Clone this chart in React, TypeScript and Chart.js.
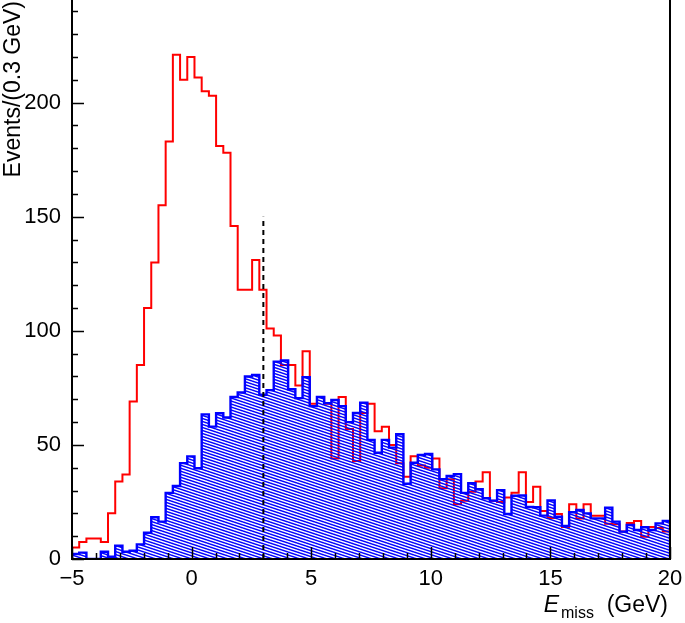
import React, { useEffect, useRef } from "react";
import { Chart, registerables } from "chart.js";

Chart.register(...registerables);

// ---- data ----
const xMin = -5;
const xMax = 20;
const yMax = 245;
const xMajorStep = 5;
const xMinorStep = 1;
const yMajorStep = 50;
const yMinorStep = 10;
const cutX = 3;
const cutTop = 150;

// red histogram (outline only), 83 bins from -5 to 20
const redCounts = [
  5, 7.5, 9, 9, 7.5, 20, 34, 37, 69, 85,
  110, 130, 155, 183, 221, 210, 220, 211, 205, 203,
  181, 178, 146, 118, 118, 131, 118, 101, 98, 85,
  85, 76, 91, 68, 71, 68, 44, 71, 57, 43,
  64, 68, 56, 58, 50, 42, 36, 45, 41, 40,
  44, 31, 35, 24, 25.5, 29.5, 34, 38, 25.5, 25,
  27, 29, 38, 25, 31.7, 21, 18, 19.7, 14, 24,
  17.8, 24, 19, 19, 15.5, 15.2, 12, 15.8, 16.7, 9.8,
  14, 13.6, 12,
];

// blue hatched histogram
const blueCounts = [
  2.2, 2.8, 0, 0, 3.2, 1, 5.8, 3.2, 3.6, 6.4,
  11.5, 18.3, 16.4, 29, 32, 42, 45, 39.8, 63.4, 58,
  63.9, 62, 71, 73, 80, 80.7, 72, 74, 86.5, 87,
  74.4, 70.5, 79.7, 67, 71, 68.3, 69.7, 67, 60, 64,
  68.5, 52.2, 46.6, 52.2, 48.8, 54.7, 33, 42.2, 45.6, 46,
  39.3, 35, 36.4, 37.2, 29, 33.2, 30.6, 26.6, 25.6, 30.2,
  19.7, 27.7, 27.8, 22.8, 22.7, 19, 25.7, 18.5, 14.5, 20.5,
  21.5, 20, 17.8, 17.8, 22.5, 16.4, 12, 14.9, 12.7, 13.9,
  12.7, 15.6, 16.7,
];

const FONT = "'Liberation Sans', Arial, Helvetica, sans-serif";

function histPoints(counts: number[]) {
  const w = (xMax - xMin) / counts.length;
  const pts: { x: number; y: number }[] = [{ x: xMin, y: 0 }];
  counts.forEach((c, i) => pts.push({ x: xMin + i * w, y: c }));
  pts.push({ x: xMax, y: 0 });
  return pts;
}

function fmt(v: number) {
  return v < 0 ? "\u2212" + String(Math.abs(v)) : String(v);
}

const rootAxes = {
  id: "rootAxes",
  afterDraw(chart: any) {
    const { ctx, chartArea: a, scales } = chart;
    const xs = scales.x;
    const ys = scales.y;
    ctx.save();
    ctx.strokeStyle = "#000";
    ctx.lineWidth = 1.5;
    ctx.beginPath();
    for (let v = 0; v <= yMax + 1e-9; v += yMinorStep) {
      const py = Math.round(ys.getPixelForValue(v)) + 0.5;
      const len = Math.abs(v % yMajorStep) < 1e-9 ? 12 : 6;
      ctx.moveTo(a.left, py);
      ctx.lineTo(a.left + len, py);
    }
    for (let v = xMin; v <= xMax + 1e-9; v += xMinorStep) {
      const px = Math.round(xs.getPixelForValue(v)) + 0.5;
      const len = Math.abs((v - xMin) % xMajorStep) < 1e-9 ? 12 : 6;
      ctx.moveTo(px, a.bottom);
      ctx.lineTo(px, a.bottom - len);
    }
    ctx.stroke();

    // frame
    ctx.lineWidth = 2;
    ctx.beginPath();
    ctx.moveTo(a.left, a.top);
    ctx.lineTo(a.left, a.bottom);
    ctx.lineTo(a.right, a.bottom);
    ctx.lineTo(a.right, a.top);
    ctx.stroke();

    // y title
    ctx.fillStyle = "#000";
    ctx.save();
    ctx.translate(20, a.top + 1);
    ctx.rotate(-Math.PI / 2);
    ctx.font = `23px ${FONT}`;
    ctx.textAlign = "right";
    ctx.textBaseline = "alphabetic";
    ctx.fillText("Events/(0.3 GeV)", 0, 0);
    ctx.restore();

    // x title: E_miss (GeV)
    const base = 612;
    ctx.textBaseline = "alphabetic";
    ctx.textAlign = "left";
    ctx.font = `italic 23px ${FONT}`;
    const wE = ctx.measureText("E").width;
    ctx.font = `16px ${FONT}`;
    const wSub = ctx.measureText("miss").width;
    ctx.font = `23px ${FONT}`;
    const rest = "  (GeV)";
    const wRest = ctx.measureText(rest).width;
    let x0 = a.right - 2 - (wE + 2 + wSub + wRest);
    ctx.font = `italic 23px ${FONT}`;
    ctx.fillText("E", x0, base);
    x0 += wE + 2;
    ctx.font = `16px ${FONT}`;
    ctx.fillText("miss", x0, base + 6);
    x0 += wSub;
    ctx.font = `23px ${FONT}`;
    ctx.fillText(rest, x0, base);
    ctx.restore();
  },
};

export default function App() {
  const ref = useRef<HTMLCanvasElement | null>(null);

  useEffect(() => {
    document.body.style.margin = "0";
    const canvas = ref.current;
    if (!canvas) return;
    const ctx = canvas.getContext("2d");
    if (!ctx) return;

    const pc = document.createElement("canvas");
    pc.width = 9;
    pc.height = 3;
    const p = pc.getContext("2d")!;
    p.strokeStyle = "#0000ff";
    p.lineWidth = 1.4;
    for (const dy of [-3, 0, 3]) {
      p.beginPath();
      p.moveTo(0, dy);
      p.lineTo(9, dy + 3);
      p.stroke();
    }
    const hatch = ctx.createPattern(pc, "repeat");

    const chart = new Chart(ctx, {
      type: "line",
      data: {
        datasets: [
          {
            label: "cut",
            data: [
              { x: cutX, y: 0 },
              { x: cutX, y: cutTop },
            ],
            borderColor: "#000",
            borderWidth: 2,
            borderDash: [5, 4],
            pointRadius: 0,
            fill: false,
          },
          {
            label: "blue",
            data: histPoints(blueCounts),
            stepped: "before",
            borderColor: "#0000ff",
            borderWidth: 2.4,
            backgroundColor: hatch as any,
            fill: "origin",
            pointRadius: 0,
            tension: 0,
          },
          {
            label: "red",
            data: histPoints(redCounts),
            stepped: "before",
            borderColor: "#ff0000",
            borderWidth: 2,
            fill: false,
            pointRadius: 0,
            tension: 0,
          },
        ],
      },
      options: {
        animation: false,
        responsive: false,
        layout: { padding: { top: 0, right: 15, left: 0, bottom: 0 } },
        plugins: {
          legend: { display: false },
          tooltip: { enabled: false },
        },
        scales: {
          x: {
            type: "linear",
            min: xMin,
            max: xMax,
            grid: { display: false, drawTicks: false },
            border: { display: false },
            ticks: {
              stepSize: xMajorStep,
              autoSkip: false,
              maxRotation: 0,
              padding: 7,
              color: "#000",
              font: { family: FONT, size: 22 },
              callback: (v: any) => fmt(Number(v)),
            },
            afterFit: (s: any) => {
              s.height = 64;
              s.paddingLeft = 0;
              s.paddingRight = 0;
            },
          },
          y: {
            type: "linear",
            min: 0,
            max: yMax,
            grid: { display: false, drawTicks: false },
            border: { display: false },
            ticks: {
              stepSize: yMajorStep,
              includeBounds: false,
              padding: 11,
              color: "#000",
              font: { family: FONT, size: 22 },
              callback: (v: any) => fmt(Number(v)),
            },
            afterFit: (s: any) => {
              s.width = 72;
              s.paddingTop = 0;
              s.paddingBottom = 0;
            },
          },
        },
      },
      plugins: [rootAxes],
    });

    return () => chart.destroy();
  }, []);

  return (
    <div style={{ width: 685, height: 623 }}>
      <canvas ref={ref} width={685} height={623} />
    </div>
  );
}
